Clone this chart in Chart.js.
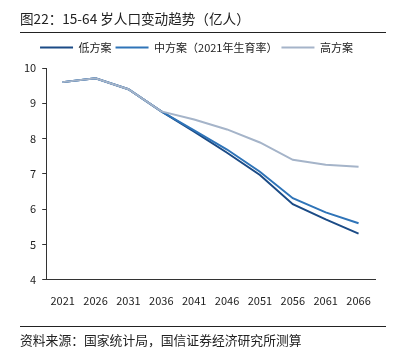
<!DOCTYPE html>
<html>
<head>
<meta charset="utf-8">
<script src="https://cdn.jsdelivr.net/npm/chart.js@4"></script>
<style>
  body { margin: 0; background: #fff; }
  #wrap { position: relative; width: 404px; height: 348px; font-family: "Noto Sans CJK SC", sans-serif; color: #222; }
  #chart { position: absolute; left: 0; top: 0; }
  .title { position: absolute; left: 20px; top: 8px; font-size: 13.6px; white-space: nowrap; }
  .rule { position: absolute; left: 20px; width: 366px; height: 1px; background: #222; }
  .source { position: absolute; left: 20px; top: 330px; font-size: 12.8px; white-space: nowrap; }
</style>
</head>
<body>
<div id="wrap">
  <canvas id="chart" width="404" height="348"></canvas>
  <div class="title">图22：15-64 岁人口变动趋势（亿人）</div>
  <div class="rule" style="top:32px"></div>
  <div class="rule" style="top:326px"></div>
  <div class="source">资料来源：国家统计局，国信证券经济研究所测算</div>
</div>
<script>
const years = ['2021', '2026', '2031', '2036', '2041', '2046', '2051', '2056', '2061', '2066'];
const lowPlan = [9.6, 9.71, 9.4, 8.77, 8.2, 7.6, 6.97, 6.14, 5.71, 5.31];
const midPlan = [9.6, 9.71, 9.4, 8.77, 8.23, 7.69, 7.06, 6.31, 5.91, 5.6];
const highPlan = [9.6, 9.71, 9.4, 8.77, 8.54, 8.26, 7.89, 7.4, 7.26, 7.2];
const seriesNames = ['低方案', '中方案（2021年生育率）', '高方案'];

const fontFamily = '"Noto Sans CJK SC", sans-serif';

function makeSet(label, data, color) {
    return {
        label: label,
        data: data,
        borderColor: color,
        backgroundColor: color,
        borderWidth: 2,
        pointRadius: 0,
        tension: 0,
        fill: false
    };
}

// leave a bit more room under the legend
const legendGap = {
    id: 'legendGap',
    beforeInit(chart) {
        const fit = chart.legend.fit;
        chart.legend.fit = function () {
            fit.bind(chart.legend)();
            this.height += 5;
        };
    }
};

new Chart(document.getElementById('chart').getContext('2d'), {
    type: 'line',
    data: {
        labels: years,
        datasets: [
            makeSet(seriesNames[2], highPlan, '#a5b4c9'),
            makeSet(seriesNames[1], midPlan, '#2f74b8'),
            makeSet(seriesNames[0], lowPlan, '#1b4b86')
        ]
    },
    options: {
        responsive: false,
        animation: false,
        layout: { padding: { left: 18, right: 29, top: 38, bottom: 35 } },
        plugins: {
            legend: {
                display: true,
                reverse: true,
                labels: {
                    usePointStyle: true,
                    pointStyle: 'line',
                    pointStyleWidth: 33,
                    boxHeight: 11,
                    padding: 4,
                    color: '#222',
                    font: { family: fontFamily, size: 11 }
                }
            },
            tooltip: { enabled: false }
        },
        scales: {
            x: {
                offset: true,
                grid: { display: false },
                border: { display: true, color: '#333', width: 1 },
                ticks: { color: '#222', font: { family: fontFamily, size: 11 }, maxRotation: 0, padding: 6 }
            },
            y: {
                min: 4,
                max: 10,
                ticks: { stepSize: 1, color: '#222', font: { family: fontFamily, size: 11 }, padding: 6 },
                grid: { drawOnChartArea: false, drawTicks: true, tickLength: 4, color: '#333' },
                border: { display: true, color: '#333', width: 1 }
            }
        }
    },
    plugins: [legendGap]
});
</script>
</body>
</html>
